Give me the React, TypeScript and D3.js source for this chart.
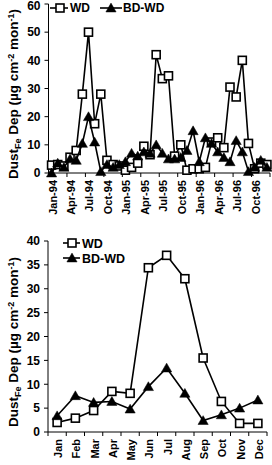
import React from "react";
import * as d3 from "d3";

const monthsTop: string[] = [
  "Jan-94","Feb-94","Mar-94","Apr-94","May-94","Jun-94","Jul-94","Aug-94","Sep-94","Oct-94","Nov-94","Dec-94",
  "Jan-95","Feb-95","Mar-95","Apr-95","May-95","Jun-95","Jul-95","Aug-95","Sep-95","Oct-95","Nov-95","Dec-95",
  "Jan-96","Feb-96","Mar-96","Apr-96","May-96","Jun-96","Jul-96","Aug-96","Sep-96","Oct-96","Nov-96","Dec-96",
];
const wdTop: number[] = [
  2.8, 3, 2.5, 5.6, 8, 28, 50, 17.5, 28, 4.5, 3, 2.5,
  1, 2, 3.5, 9.5, 6.5, 42, 33.5, 34.5, 6, 10, 1, 1.5,
  1.5, 2, 11, 12.5, 9, 30.5, 27, 40, 10.5, 1.5, 3.5, 3,
];
const bdTop: number[] = [
  0, 3.5, 2, 5, 4.5, 10.5, 20, 11, 0.5, 3, 2, 3,
  4, 7, 6, 7.5, 7, 10, 7, 5, 5, 5.5, 8, 15,
  4, 12.5, 10.5, 7.5, 5.5, 4, 11.5, 7.5, 0.5, 2, 4.5, 2,
];
const topTicks: number[] = [0, 10, 20, 30, 40, 50, 60];

const monthsBottom: string[] = ["Jan","Feb","Mar","Apr","May","Jun","Jul","Aug","Sep","Oct","Nov","Dec"];
const wdBottom: number[] = [2, 2.9, 4.5, 8.5, 8.1, 34.4, 37, 32.1, 15.5, 6.4, 1.8, 1.8];
const bdBottom: number[] = [3.4, 7.6, 6.2, 6.4, 4.8, 9.5, 13.4, 8.1, 2.4, 3.6, 5, 6.7];
const bottomTicks: number[] = [0, 5, 10, 15, 20, 25, 30, 35, 40];

const FONT = "Arial, 'Liberation Sans', sans-serif";

function Square({ x, y, s = 8 }: { x: number; y: number; s?: number }) {
  return <rect x={x - s / 2} y={y - s / 2} width={s} height={s} fill="#fff" stroke="#000" strokeWidth={1.6} />;
}
function Tri({ x, y, s = 10 }: { x: number; y: number; s?: number }) {
  const p = d3.symbol().type(d3.symbolTriangle).size(s * s * 0.45)();
  return <path d={p || ""} transform={`translate(${x},${y + 1})`} fill="#000" stroke="#000" strokeWidth={0.5} />;
}

function Panel(props: {
  cats: string[];
  wd: number[];
  bd: number[];
  ticks: number[];
  yMax: number;
  x0: number;
  x1: number;
  y0: number;
  y1: number;
  labelEvery: number;
  labelFont: number;
  legend: "row" | "col";
  ylabelY: number;
}) {
  const { cats, wd, bd, ticks, yMax, x0, x1, y0, y1, labelEvery, labelFont, legend, ylabelY } = props;
  const x = d3.scaleBand<number>().domain(cats.map((_, i) => i)).range([x0, x1]).padding(0);
  const y = d3.scaleLinear().domain([0, yMax]).range([y0, y1]);
  const cx = (i: number) => (x(i) as number) + x.bandwidth() / 2;
  const line = d3.line<number>().x((_, i) => cx(i)).y((v) => y(v));
  const tickIdx = cats.map((_, i) => i).filter((i) => i % labelEvery === 0);
  return (
    <g fontFamily={FONT} fontWeight="bold">
      <line x1={x0} x2={x0} y1={y0} y2={y(yMax)} stroke="#000" strokeWidth={1} />
      <line x1={x0} x2={x1} y1={y0} y2={y0} stroke="#000" strokeWidth={1} />
      {ticks.map((t) => (
        <g key={t}>
          <line x1={x0 - 4} x2={x0} y1={y(t)} y2={y(t)} stroke="#000" />
          <text x={x0 - 8} y={Math.max(y(t), 5.5)} dy="0.36em" textAnchor="end" fontSize={12}>
            {t}
          </text>
        </g>
      ))}
      {tickIdx.map((i) => (
        <line key={"t" + i} x1={x(i) as number} x2={x(i) as number} y1={y0} y2={y0 + 4} stroke="#000" />
      ))}
      <line x1={x1} x2={x1} y1={y0} y2={y0 + 4} stroke="#000" />
      {tickIdx.map((i) => (
        <text
          key={"l" + i}
          transform={`translate(${cx(i) + 1},${y0 + 7}) rotate(-90)`}
          dy="0.36em"
          textAnchor="end"
          fontSize={labelFont}
        >
          {cats[i]}
        </text>
      ))}
      <path d={line(wd) || ""} fill="none" stroke="#000" strokeWidth={1.6} />
      {wd.map((v, i) => (
        <Square key={"s" + i} x={cx(i)} y={y(v)} />
      ))}
      <path d={line(bd) || ""} fill="none" stroke="#000" strokeWidth={1.6} />
      {bd.map((v, i) => (
        <Tri key={"b" + i} x={cx(i)} y={y(v)} />
      ))}
      <text
        transform={`translate(18,${ylabelY}) rotate(-90)`}
        textAnchor="middle"
        fontSize={13.5}
      >
        Dust
        <tspan fontSize={9} dy={3}>Fe</tspan>
        <tspan dy={-3}> Dep (µg cm</tspan>
        <tspan fontSize={9} dy={-4}>-2</tspan>
        <tspan dy={4}> mon</tspan>
        <tspan fontSize={9} dy={-4}>-1</tspan>
        <tspan dy={4}>)</tspan>
      </text>
      {legend === "row" ? (
        <g fontSize={12}>
          <line x1={50} x2={68} y1={8} y2={8} stroke="#000" strokeWidth={1.6} />
          <Square x={60} y={8} />
          <text x={70} y={8} dy="0.36em">WD</text>
          <line x1={100} x2={122} y1={8} y2={8} stroke="#000" strokeWidth={1.6} />
          <Tri x={111} y={8} />
          <text x={123} y={8} dy="0.36em">BD-WD</text>
        </g>
      ) : (
        <g fontSize={12.5}>
          <line x1={63} x2={80} y1={243} y2={243} stroke="#000" strokeWidth={1.6} />
          <Square x={72} y={243} />
          <text x={82} y={243} dy="0.36em">WD</text>
          <line x1={63} x2={80} y1={258} y2={258} stroke="#000" strokeWidth={1.6} />
          <Tri x={72} y={258} />
          <text x={82} y={258} dy="0.36em">BD-WD</text>
        </g>
      )}
    </g>
  );
}

export default function App() {
  return (
    <svg
      width={272}
      height={465}
      style={{ position: "absolute", left: 0, top: 0, background: "#fff" }}
    >
      <rect width={272} height={465} fill="#fff" />
      <Panel
        cats={monthsTop}
        wd={wdTop}
        bd={bdTop}
        ticks={topTicks}
        yMax={60}
        x0={48.5}
        x1={270}
        y0={173}
        y1={4}
        labelEvery={3}
        labelFont={11}
        legend="row"
        ylabelY={94}
      />
      <Panel
        cats={monthsBottom}
        wd={wdBottom}
        bd={bdBottom}
        ticks={bottomTicks}
        yMax={40}
        x0={48}
        x1={267}
        y0={432}
        y1={241}
        labelEvery={1}
        labelFont={11}
        legend="col"
        ylabelY={342}
      />
    </svg>
  );
}
